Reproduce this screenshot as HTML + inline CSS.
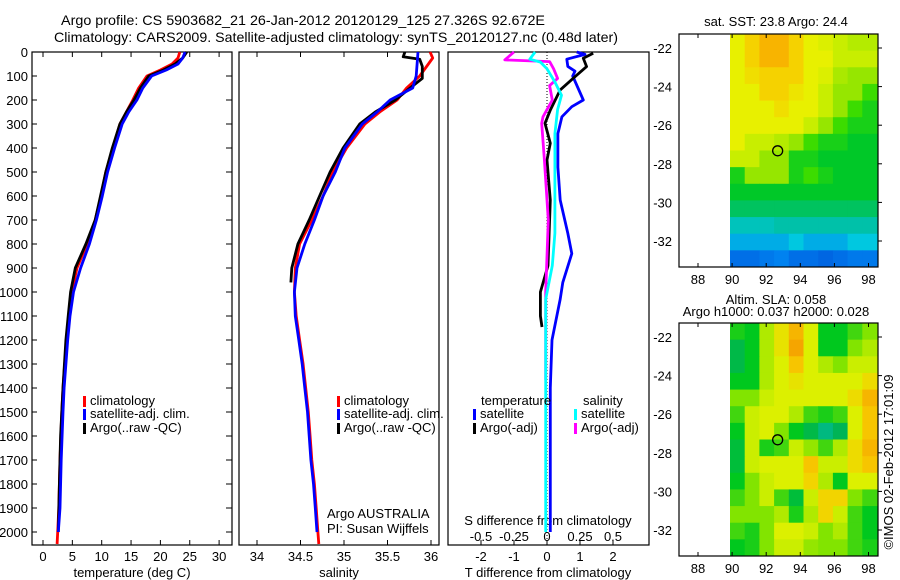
<!DOCTYPE html>
<html><head><meta charset="utf-8">
<style>
html,body{margin:0;padding:0;background:#fff;}
svg{display:block;font-family:"Liberation Sans",sans-serif;}
text{font-size:13px;fill:#000;}
</style></head>
<body>
<svg id="fig" width="900" height="580" viewBox="0 0 900 580" xmlns="http://www.w3.org/2000/svg">
<text x="61" y="25" style="font-size:14px" textLength="484" lengthAdjust="spacingAndGlyphs">Argo profile: CS 5903682_21 26-Jan-2012 20120129_125 27.326S 92.672E</text>
<text x="54" y="42" style="font-size:14px" textLength="564" lengthAdjust="spacingAndGlyphs">Climatology: CARS2009. Satellite-adjusted climatology: synTS_20120127.nc (0.48d later)</text>
<g id="g"></g>
</svg>
<script>
// ---- data ----
const depthTicks=[0,100,200,300,400,500,600,700,800,900,1000,1100,1200,1300,1400,1500,1600,1700,1800,1900,2000];
const tempTicks=[0,5,10,15,20,25,30];
const salTicks=[34,34.5,35,35.5,36];
const tdiffTicks=[-2,-1,0,1,2];
const sdiffTicks=[-0.5,-0.25,0,0.25,0.5];
const lonTicks=[88,90,92,94,96,98];
const latTicks=[-22,-24,-26,-28,-30,-32];

const tClimDepth=[0,25,50,75,100,150,200,250,300,400,500,600,700,800,900,1000,1100,1200,1300,1400,1500,1700,1900,2000,2050];
const tClim=[23.3,23,22,20,17.7,16.3,15.3,14.2,13.1,11.9,10.7,9.9,8.9,7.5,5.8,4.9,4.4,4.1,3.7,3.4,3.2,2.9,2.7,2.5,2.4];
const tSatDepth=[0,25,50,75,100,150,200,250,300,400,500,600,700,800,900,1000,1100,1200,1300,1400,1500,1700,1900,2000];
const tSat=[24.2,23.8,23,21,18.5,17,16,14.6,13.5,12.2,11,10.1,9.1,7.9,6.4,5.2,4.6,4.2,3.9,3.6,3.4,3.1,2.9,2.6];
const tArgoDepth=[0,25,50,75,100,150,200,250,300,400,500,600,700,800,900,1000,1100,1200,1400,1600,1800,2000];
const tArgo=[24.5,23.8,22.5,20.5,18,16.6,15.5,14.2,13.1,11.8,10.7,9.8,8.9,7.3,5.5,4.7,4.3,3.9,3.4,3.0,2.8,2.6];

const sClimDepth=[0,25,50,100,150,200,250,300,400,500,600,700,800,900,1000,1100,1200,1300,1400,1500,1600,1700,1800,1900,2000,2050];
const sClim=[35.99,36.02,35.97,35.87,35.72,35.61,35.41,35.24,35.03,34.87,34.76,34.63,34.49,34.44,34.43,34.45,34.49,34.53,34.56,34.59,34.61,34.63,34.66,34.68,34.70,34.71];
const sSatDepth=[0,50,100,150,200,250,300,400,500,600,700,800,900,1000,1100,1200,1300,1400,1500,1600,1700,1800,1900,2000];
const sSat=[35.85,35.84,35.83,35.79,35.53,35.38,35.21,35.01,34.9,34.76,34.66,34.55,34.46,34.43,34.44,34.48,34.52,34.55,34.58,34.6,34.62,34.65,34.67,34.69];
const sArgoDepth=[0,20,30,60,110,150,200,250,300,400,500,600,700,800,900,960];
const sArgo=[35.70,35.68,35.87,35.9,35.9,35.76,35.59,35.36,35.18,34.99,34.84,34.72,34.6,34.47,34.4,34.39];

const dTSatDepth=[0,10,30,60,80,100,200,228,270,340,480,617,755,840,960,1030,1200,1400,2000];
const dTSat=[0.9,1.15,0.6,0.63,0.85,0.78,1.1,0.75,0.45,0.33,0.33,0.4,0.63,0.75,0.48,0.4,0.15,0.1,0.1];
const dTArgoDepth=[5,26,61,103,158,186,242,297,380,450,617,890,1000,1100,1146];
const dTArgo=[1.4,1.1,1.2,0.85,0.4,0.3,0.1,-0.06,0.1,0,0.1,0.03,-0.2,-0.2,-0.15];
const dSSatDepth=[0,30,42,70,125,180,240,340,617,755,890,1030,1300,2000];
const dSSat=[-0.09,-0.13,-0.05,0,0.06,0.11,0.08,0.06,0.06,0.06,0.04,-0.01,-0.01,-0.01];
const dSArgoDepth=[0,33,40,70,110,140,200,240,270,297,450,700,1000,1366];
const dSArgo=[-0.25,-0.32,0.02,0.05,0.08,0.02,0.04,0,-0.03,-0.04,-0.02,0.01,-0.01,-0.01];

// SST grid (0 blue .. 5 orange), rows north->south
const sstGrid=[
[4,4.5,5,5,4.5,4,3.8,3.5,3.3,3.3],
[4,4.5,5,5,4.5,4,4,3.5,3.5,3.5],
[4,4.3,4.5,4.5,4.5,4,3.8,3.2,3,3],
[4,4,4.5,4.5,4.2,4,3.5,3,3,2.5],
[4,4,4,4.3,4,4,3.5,3,2.5,2.2],
[4,4,4,4,4,3.5,3,2.5,2.2,2.2],
[4,3.5,3.5,3.3,3,2.5,2.2,2.2,2,2],
[3.5,3.5,3,3,2.2,2.2,2,2,2,2],
[2.2,3,3,3,2.2,2.5,2.2,2,2,2],
[2,2,2,2,2,2,2,2,2,2],
[1.8,1.8,1.8,1.8,1.8,1.8,1.8,1.8,1.8,1.8],
[1.4,1.4,1.4,1.5,1.5,1.5,1.5,1.5,1.5,1.5],
[1,1,1,1,1.2,1,1,1,1.2,1.2],
[0.5,0.5,0.6,0.7,0.5,0.5,0.4,0.5,0.6,0.6]];
// SLA grid (0 teal .. 4 orange)
const slaGrid=[
[1.2,1,2.5,3.2,3.8,3,1,1,1.5,2],
[0.7,1,2.5,3.2,4,3,1,1,2,2.5],
[0.7,1,2.5,3,3.6,3,2.5,2,2.8,2.8],
[1,1,2.5,3,3.2,3,3,3,3,3.3],
[2,2,2.8,3,3,3,3,3,3.3,3.8],
[1.5,2.8,3,3,2.5,1.5,1.2,1.5,3,3.6],
[1,2.8,3,2,1,0.7,0.3,0.6,3,3.6],
[0.8,2.8,1.2,1.5,2.8,2.2,1.5,2.5,3.3,3.8],
[0.8,2.8,3,3,3,3.6,2.8,2.8,3.3,3.6],
[1,2,2.8,3,3,3.4,2.5,1,3,3],
[1.5,2,2.8,1.5,0.8,2.8,3.4,3.4,2,1.5],
[2,2,2,2.5,1.2,2.5,3.4,2.8,1.5,1],
[1.5,1.2,2,3,3,2.8,2,2.5,1.5,1],
[1,1.2,2,2.8,2.8,2.2,2,2,1.5,1.2]];
const argoLon=92.672, argoLat=-27.326;

// ---- drawing ----
const NS="http://www.w3.org/2000/svg";
const G=document.getElementById('g');
function el(tag,attrs,parent){const e=document.createElementNS(NS,tag);for(const k in attrs)e.setAttribute(k,attrs[k]);(parent||G).appendChild(e);return e;}
function txt(x,y,s,anchor,parent){const t=el('text',{x:x,y:y,'text-anchor':anchor||'start'},parent);t.textContent=s;return t;}
const yD=d=>52+d*0.24;
const BOT=545;
const xT=v=>43+v*5.87;
const xS=v=>257+(v-34)*87;
const xDT=v=>547+v*33;
const xDS=v=>547+v*132;

function panel(name,x0,x1){
  const r=el('rect',{x:x0,y:52,width:x1-x0,height:BOT-52,fill:'none',stroke:'#000','stroke-width':1.2});
  
  
}
panel('temperature-panel',32,232);
panel('salinity-panel',239,439);
panel('difference-panel',448,649);

// depth axis
const dg=el('g',{});


depthTicks.forEach(d=>{
  txt(28,yD(d)+5,String(d),'end',dg);
  el('line',{x1:32,x2:37,y1:yD(d),y2:yD(d),stroke:'#000'},dg);
  el('line',{x1:226,x2:232,y1:yD(d),y2:yD(d),stroke:'#000'},dg);
});
function xticks(name,ticks,fx,y,top,labelY){
  const g=el('g',{});
  
  
  ticks.forEach(v=>{
    const x=fx(v);
    if(top) el('line',{x1:x,x2:x,y1:52,y2:57,stroke:'#000'},g);
    el('line',{x1:x,x2:x,y1:y,y2:y-5,stroke:'#000'},g);
    txt(x,labelY,String(v),'middle',g);
  });
}
xticks('temperature-x-axis',tempTicks,xT,BOT,true,561);
xticks('salinity-x-axis',salTicks,xS,BOT,true,561);
xticks('t-difference-x-axis',tdiffTicks,xDT,BOT,false,561);
(function(){const g=el('g',{});


sdiffTicks.forEach(v=>txt(xDS(v),541,String(v),'middle',g));})();

let t;
t=txt(132,577,'temperature (deg C)','middle');
t=txt(339,577,'salinity','middle');
t=txt(548,577,'T difference from climatology','middle');
t=txt(548,525,'S difference from climatology','middle');

const zl=el('line',{x1:547,x2:547,y1:52,y2:BOT,stroke:'#000','stroke-dasharray':'1,2'});



function series(name,depths,vals,fx,color,w){
  const pts=depths.map((d,i)=>fx(vals[i]).toFixed(1)+','+yD(d).toFixed(1)).join(' ');
  const p=el('polyline',{points:pts,fill:'none',stroke:color,'stroke-width':w||2.8,'stroke-linejoin':'round'});
  
  
}
series('temp-climatology-line',tClimDepth,tClim,xT,'#f00');
series('temp-argo-line',tArgoDepth,tArgo,xT,'#000');
series('temp-satellite-line',tSatDepth,tSat,xT,'#00f');
series('sal-climatology-line',sClimDepth,sClim,xS,'#f00');
series('sal-argo-line',sArgoDepth,sArgo,xS,'#000');
series('sal-satellite-line',sSatDepth,sSat,xS,'#00f');
series('tdiff-satellite-line',dTSatDepth,dTSat,xDT,'#00f');
series('tdiff-argo-line',dTArgoDepth,dTArgo,xDT,'#000');
series('sdiff-argo-line',dSArgoDepth,dSArgo,xDS,'#f0f');
series('sdiff-satellite-line',dSSatDepth,dSSat,xDS,'#0ff');

function legend(name,x,y,color,label){
  const g=el('g',{});
  
  
  el('rect',{x:x,y:y-9,width:3,height:11,fill:color},g);
  txt(x+7,y,label,'start',g);
}
legend('legend-climatology',83,405,'#f00','climatology');
legend('legend-satellite-adj',83,418,'#00f','satellite-adj. clim.');
legend('legend-argo',83,432,'#000','Argo(..raw -QC)');
legend('legend-sal-climatology',337,405,'#f00','climatology');
legend('legend-sal-satellite-adj',337,418,'#00f','satellite-adj. clim.');
legend('legend-sal-argo',337,432,'#000','Argo(..raw -QC)');
t=txt(481,405,'temperature');
t=txt(583,405,'salinity');
legend('legend-t-satellite',473,418,'#00f','satellite');
legend('legend-t-argo',473,432,'#000','Argo(-adj)');
legend('legend-s-satellite',574,418,'#0ff','satellite');
legend('legend-s-argo',574,432,'#f0f','Argo(-adj)');
t=txt(327,518,'Argo AUSTRALIA');
t=txt(327,533,'PI: Susan Wijffels');

// ---- maps ----
function ramp(stops,v){
  for(let i=1;i<stops.length;i++){if(v<=stops[i][0]){const a=stops[i-1],b=stops[i];const f=(v-a[0])/(b[0]-a[0]);return 'rgb('+a[1].map((c,j)=>Math.round(c+(b[1][j]-c)*f)).join(',')+')';}}
  const l=stops[stops.length-1][1];return 'rgb('+l.join(',')+')';
}
const sstStops=[[0,[0,64,208]],[0.7,[0,130,240]],[1.2,[0,200,224]],[1.6,[0,190,150]],[2,[0,200,40]],[2.5,[60,220,0]],[3,[150,230,0]],[3.5,[200,238,0]],[4,[232,240,0]],[4.5,[245,210,0]],[5,[248,180,0]]];
const slaStops=[[0,[0,200,170]],[0.5,[0,175,100]],[1,[0,200,30]],[2,[130,228,0]],[3,[220,240,0]],[3.5,[248,205,0]],[4,[245,165,0]]];
function map(name,y0,grid,stops){
  const X0=679,X1=878,Y1=y0+233;
  const xL=v=>698+(v-88)*17.05;
  const yL=v=>(y0+14)+(-22-v)*19.3;
  const g=el('g',{});
  
  
  const dx0=730,dx1=877,rows=grid.length,cols=grid[0].length;
  const cw=(dx1-dx0)/cols,ch=(Y1-y0)/rows;
  grid.forEach((row,r)=>row.forEach((v,c)=>{
    const cell=el('rect',{x:dx0+c*cw,y:y0+r*ch,width:cw+0.5,height:ch+0.5,fill:ramp(stops,v)},g);
    
    
  }));
  el('rect',{x:X0,y:y0,width:X1-X0,height:Y1-y0,fill:'none',stroke:'#000','stroke-width':1.2},g);
  lonTicks.forEach(v=>{const x=xL(v);el('line',{x1:x,x2:x,y1:y0,y2:y0+4,stroke:'#000'},g);el('line',{x1:x,x2:x,y1:Y1,y2:Y1-4,stroke:'#000'},g);txt(x,Y1+17,String(v),'middle',g);});
  latTicks.forEach(v=>{const y=yL(v);el('line',{x1:X1,x2:X1+4,y1:y,y2:y,stroke:'#000'},g);txt(X0-7,y+5,String(v),'end',g);});
  const c=el('circle',{cx:xL(argoLon),cy:yL(argoLat),r:5,fill:'none',stroke:'#000','stroke-width':1.3},g);
  
  
}
map('sst-map',34,sstGrid,sstStops);
map('sla-map',323,slaGrid,slaStops);
t=txt(776,26,'sat. SST: 23.8 Argo: 24.4','middle');
t=txt(776,304,'Altim. SLA: 0.058','middle');
t=txt(776,316,'Argo h1000: 0.037 h2000: 0.028','middle');
t=txt(0,0,'©IMOS 02-Feb-2012 17:01:09','middle');
t.setAttribute('transform','translate(893,462) rotate(-90)');


</script>
</body></html>
